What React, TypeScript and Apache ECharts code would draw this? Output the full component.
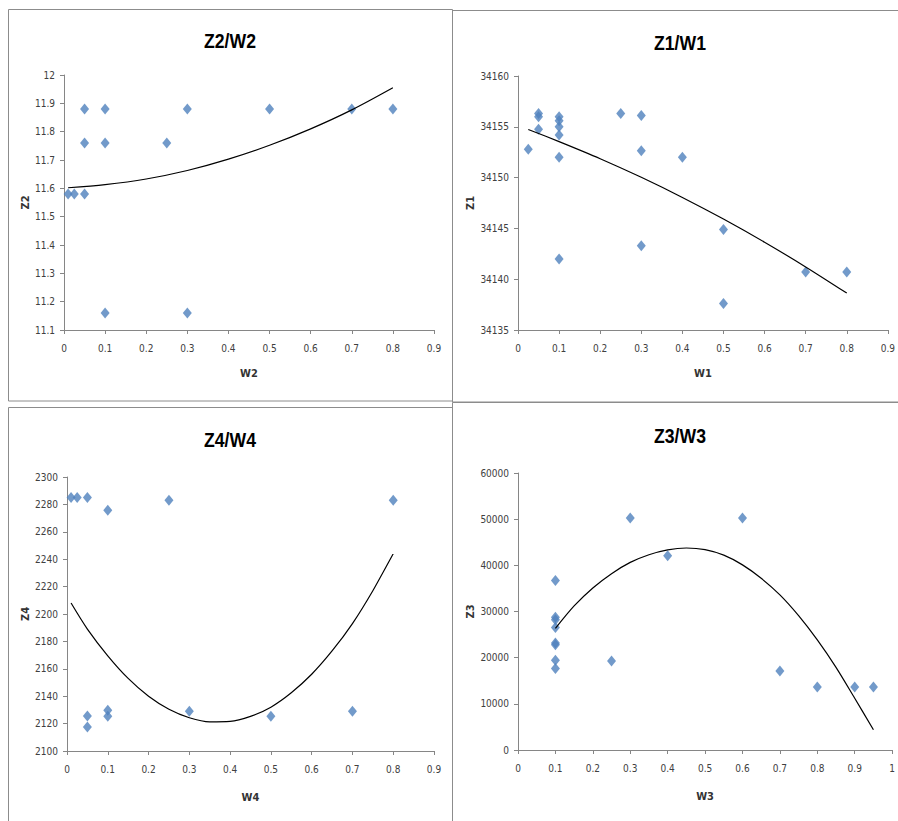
import React, { useEffect, useRef } from "react";
import * as echarts from "echarts";

// ---- Z2 / W2 ----
const w2 = [0.01, 0.025, 0.05, 0.05, 0.05, 0.1, 0.1, 0.1, 0.25, 0.3, 0.3, 0.5, 0.7, 0.8];
const z2 = [11.58, 11.58, 11.58, 11.76, 11.88, 11.88, 11.76, 11.16, 11.76, 11.88, 11.16, 11.88, 11.88, 11.88];
const trendW2 = [0.01, 0.1, 0.2, 0.3, 0.4, 0.5, 0.6, 0.7, 0.8];
const trendZ2 = [11.602, 11.613, 11.633, 11.663, 11.703, 11.752, 11.81, 11.877, 11.955];

// ---- Z1 / W1 ----
const w1 = [0.025, 0.05, 0.05, 0.05, 0.1, 0.1, 0.1, 0.1, 0.1, 0.1, 0.25, 0.3, 0.3, 0.3, 0.4, 0.5, 0.5, 0.7, 0.8];
const z1 = [34152.8, 34156.3, 34156.0, 34154.75, 34156.0, 34155.6, 34155.0, 34154.2, 34152.0, 34142.0, 34156.3, 34156.1, 34152.65, 34143.3, 34152.0, 34144.9, 34137.6, 34140.7, 34140.7];
const trendW1 = [0.025, 0.1, 0.2, 0.3, 0.4, 0.5, 0.6, 0.7, 0.8];
const trendZ1 = [34154.74, 34153.54, 34151.86, 34150.03, 34148.05, 34145.92, 34143.64, 34141.21, 34138.63];

// ---- Z4 / W4 ----
const w4 = [0.01, 0.025, 0.05, 0.1, 0.25, 0.8, 0.05, 0.05, 0.1, 0.1, 0.3, 0.5, 0.7];
const z4 = [2285, 2285, 2285, 2275.7, 2283, 2283, 2125.6, 2117.5, 2129.7, 2125.3, 2129, 2125.3, 2129];
const trendW4 = [0.01, 0.05, 0.1, 0.15, 0.2, 0.25, 0.3, 0.35, 0.4, 0.45, 0.5, 0.55, 0.6, 0.65, 0.7, 0.75, 0.8];
const trendZ4 = [2208, 2189, 2169.5, 2153, 2140, 2130.5, 2124.3, 2121.3, 2121.6, 2125.3, 2132, 2142.5, 2156, 2173, 2193, 2217, 2244];

// ---- Z3 / W3 ----
const w3 = [0.1, 0.1, 0.1, 0.1, 0.1, 0.1, 0.1, 0.1, 0.25, 0.3, 0.4, 0.6, 0.7, 0.8, 0.9, 0.95];
const z3 = [36720, 28740, 28200, 26560, 23200, 22800, 19450, 17630, 19300, 50250, 42090, 50250, 17130, 13640, 13640, 13640];
const trendW3 = [0.1, 0.15, 0.2, 0.25, 0.3, 0.35, 0.4, 0.45, 0.5, 0.55, 0.6, 0.65, 0.7, 0.75, 0.8, 0.85, 0.9, 0.95];
const trendZ3 = [26340, 31200, 35100, 38200, 40640, 42300, 43350, 43750, 43400, 42200, 40100, 37200, 33600, 29100, 23850, 17900, 11200, 4400];

const titles = ["Z2/W2", "Z1/W1", "Z4/W4", "Z3/W3"];
const xNames = ["W2", "W1", "W4", "W3"];
const yNames = ["Z2", "Z1", "Z4", "Z3"];

const FONT = "'DejaVu Sans Condensed','DejaVu Sans',sans-serif";
const TITLE_FONT = "'Liberation Sans',Arial,sans-serif";
const AXIS = "#868686";
const BLUE = "#4F81BD";

const pairs = (xs: number[], ys: number[]) => xs.map((x, i) => [x, ys[i]]);
const fmt = (v: number) => String(Math.round(v * 1000) / 1000);

const panels = [
  { grid: { left: 64, top: 75, width: 370, height: 255 }, x: [0, 0.9, 0.1], y: [11.1, 12, 0.1], xGap: 38, yGap: 22, title: [230, 40], pts: pairs(w2, z2), trend: pairs(trendW2, trendZ2) },
  { grid: { left: 518, top: 76, width: 372, height: 254 }, x: [0, 0.9, 0.1], y: [34135, 34160, 5], xGap: 38, yGap: 32, title: [680, 42], pts: pairs(w1, z1), trend: pairs(trendW1, trendZ1) },
  { grid: { left: 67, top: 477, width: 367, height: 274 }, x: [0, 0.9, 0.1], y: [2100, 2300, 20], xGap: 41, yGap: 23, title: [230, 439], pts: pairs(w4, z4), trend: pairs(trendW4, trendZ4) },
  { grid: { left: 518, top: 473, width: 376, height: 277 }, x: [0, 1, 0.1], y: [0, 60000, 10000], xGap: 41, yGap: 32, title: [680, 435], pts: pairs(w3, z3), trend: pairs(trendW3, trendZ3) },
];

const axisCommon = {
  axisLine: { lineStyle: { color: AXIS, width: 1 } },
  axisTick: { show: true, inside: false, length: 4, lineStyle: { color: AXIS } },
  splitLine: { show: false },
  nameLocation: "middle" as const,
  nameTextStyle: { fontFamily: FONT, fontWeight: "bold" as const, fontSize: 11, color: "#333" },
};

const labelStyle = { color: "#404040", fontSize: 10, fontFamily: FONT, formatter: fmt, showMaxLabel: true, showMinLabel: true };

export default function App() {
  const ref = useRef<HTMLDivElement>(null);
  useEffect(() => {
    if (!ref.current) return;
    const chart = echarts.init(ref.current, null, { renderer: "svg" });
    const option: any = {
      animation: false,
      backgroundColor: "#ffffff",
      grid: panels.map((p) => ({ ...p.grid, containLabel: false })),
      xAxis: panels.map((p, i) => ({
        ...axisCommon,
        type: "value",
        gridIndex: i,
        min: p.x[0],
        max: p.x[1],
        interval: p.x[2],
        name: xNames[i],
        nameGap: p.xGap,
        axisLabel: { ...labelStyle, margin: 13 },
      })),
      yAxis: panels.map((p, i) => ({
        ...axisCommon,
        type: "value",
        gridIndex: i,
        min: p.y[0],
        max: p.y[1],
        interval: p.y[2],
        name: yNames[i],
        nameGap: p.yGap,
        axisLabel: { ...labelStyle, margin: 9 },
      })),
      series: panels.flatMap((p, i) => [
        {
          type: "scatter",
          xAxisIndex: i,
          yAxisIndex: i,
          symbol: "diamond",
          symbolSize: [9, 11],
          itemStyle: { color: BLUE },
          data: p.pts,
          z: 2,
        },
        {
          type: "line",
          xAxisIndex: i,
          yAxisIndex: i,
          smooth: 0.3,
          showSymbol: false,
          symbol: "none",
          lineStyle: { color: "#000000", width: 1.2 },
          data: p.trend,
          z: 3,
        },
      ]),
      graphic: [
        { type: "rect", shape: { x: 8.5, y: 9.5, width: 444, height: 391.5 }, style: { fill: "none", stroke: "#8c8c8c", lineWidth: 1 } },
        { type: "rect", shape: { x: 452.5, y: 10.5, width: 470, height: 391.5 }, style: { fill: "none", stroke: "#8c8c8c", lineWidth: 1 } },
        { type: "rect", shape: { x: 8.5, y: 407.5, width: 444, height: 440 }, style: { fill: "none", stroke: "#8c8c8c", lineWidth: 1 } },
        { type: "rect", shape: { x: 452.5, y: 402.5, width: 470, height: 440 }, style: { fill: "none", stroke: "#8c8c8c", lineWidth: 1 } },
        ...panels.map((p, i) => ({
          type: "text",
          x: p.title[0],
          y: p.title[1],
          scaleX: 0.84,
          style: {
            text: titles[i],
            fontFamily: TITLE_FONT,
            fontWeight: "bold",
            fontSize: 21,
            fill: "#000",
            align: "center",
            verticalAlign: "middle",
          },
        })),
      ],
    };
    chart.setOption(option);
    return () => chart.dispose();
  }, []);
  return (
    <div
      ref={ref}
      style={{ position: "fixed", left: 0, top: 0, width: 898, height: 821, background: "#fff" }}
    />
  );
}
